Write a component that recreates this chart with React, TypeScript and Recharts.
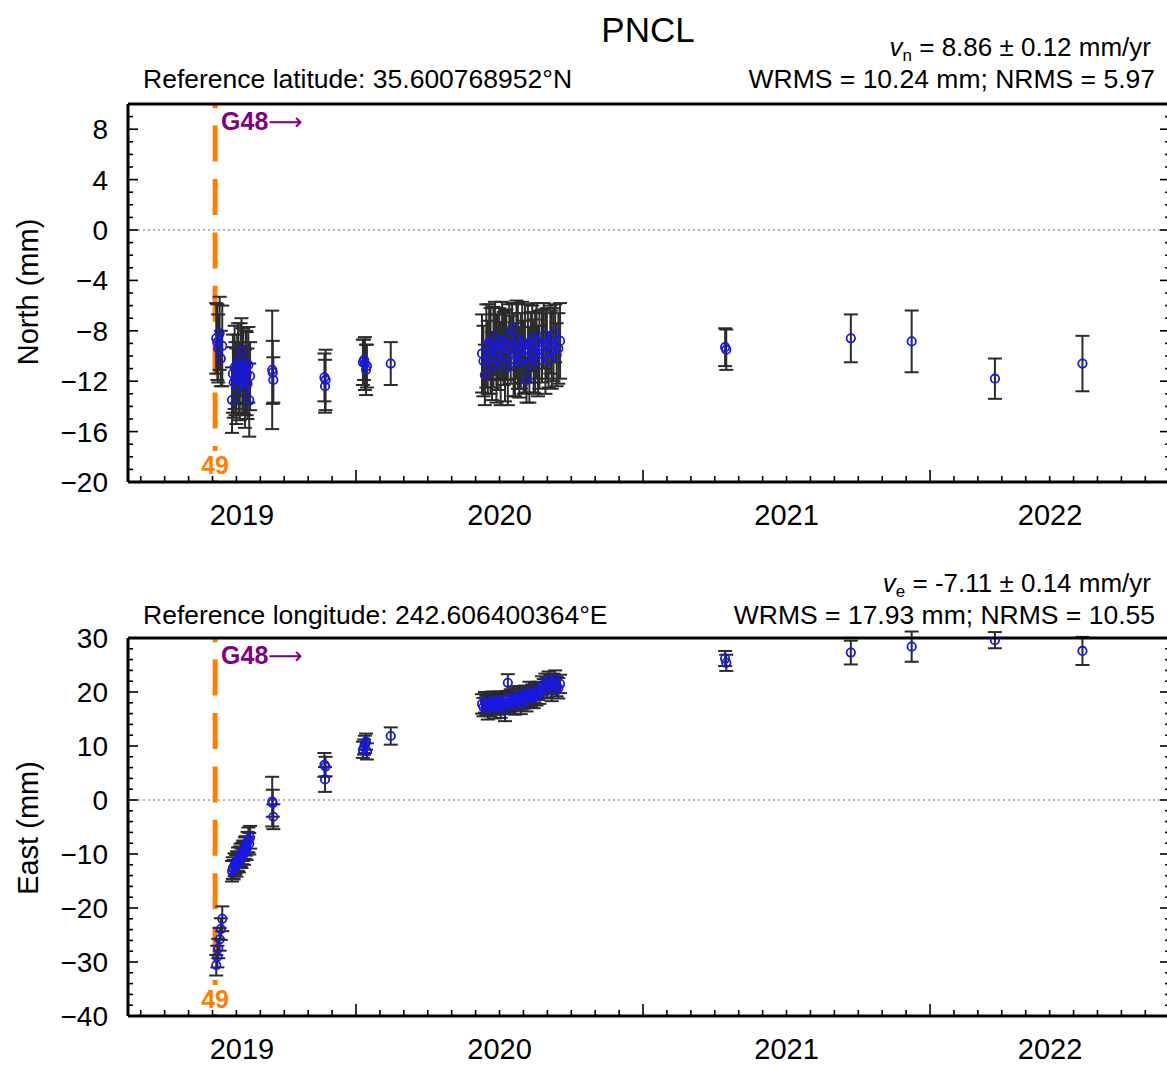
import React from 'react';
import { ComposedChart, Scatter, ErrorBar, XAxis, YAxis, ReferenceLine } from 'recharts';

const FONT = "'Liberation Sans', Arial, Helvetica, sans-serif";

// ---------- text content ----------
const stationName = 'PNCL';
const northVelocity = ' = 8.86 ± 0.12 mm/yr';
const northStats = 'WRMS = 10.24 mm; NRMS = 5.97';
const northRef = 'Reference latitude: 35.600768952°N';
const eastVelocity = ' = -7.11 ± 0.14 mm/yr';
const eastStats = 'WRMS = 17.93 mm; NRMS = 10.55';
const eastRef = 'Reference longitude: 242.606400364°E';
const eventCode = 'G48';
const eventArrow = '⟶';
const eventNumber = '49';

// ---------- axes ----------
const yearLabels = [2019, 2020, 2021, 2022];
const xDomain: [number, number] = [2019.2056, 2022.836];
const eventEpoch = 2019.509;
const northTickLabels = [8, 4, 0, -4, -8, -12, -16, -20];
const eastTickLabels = [30, 20, 10, 0, -10, -20, -30, -40];
const northDomain: [number, number] = [-20, 10];
const eastDomain: [number, number] = [-40, 30];

// ---------- data (decimal year, mm) ----------
const epochs = [
  2019.513, 2019.517, 2019.520, 2019.525, 2019.529, 2019.534,
  2019.568, 2019.571, 2019.574, 2019.577, 2019.580, 2019.583, 2019.586, 2019.589, 2019.592, 2019.595, 2019.598,
  2019.601, 2019.604, 2019.607, 2019.610, 2019.613, 2019.616, 2019.619, 2019.622, 2019.625, 2019.628, 2019.631,
  2019.708, 2019.710, 2019.712,
  2019.890, 2019.892, 2019.894,
  2020.024, 2020.028, 2020.031, 2020.035, 2020.038,
  2020.121,
  2020.439, 2020.444, 2020.449, 2020.454, 2020.459, 2020.464, 2020.469, 2020.474, 2020.479, 2020.484,
  2020.489, 2020.494, 2020.499, 2020.504, 2020.509, 2020.514, 2020.519, 2020.524, 2020.529, 2020.534,
  2020.539, 2020.544, 2020.549, 2020.554, 2020.559, 2020.564, 2020.569, 2020.574, 2020.579, 2020.584,
  2020.589, 2020.594, 2020.599, 2020.604, 2020.609, 2020.614, 2020.619, 2020.624, 2020.629, 2020.634, 2020.639,
  2020.648, 2020.654, 2020.660, 2020.665, 2020.671, 2020.677, 2020.682, 2020.688, 2020.694, 2020.699, 2020.705, 2020.711,
  2021.286, 2021.290,
  2021.724,
  2021.936,
  2022.226,
  2022.531,
];

const northMm = [
  -8.6, -8.9, -9.4, -8.2, -10.2, -9.2,
  -13.5, -11.4, -12.1, -10.9, -11.8, -12.4, -11.0, -10.6, -11.7, -12.0, -10.3,
  -9.6, -11.2, -10.8, -11.9, -12.6, -10.9, -11.4, -12.2, -10.7, -13.5, -11.6,
  -11.1, -11.3, -11.9,
  -11.7, -12.4, -11.9,
  -10.5, -10.3, -10.6, -11.1, -10.8,
  -10.6,
  -9.8, -10.4, -11.5, -9.2, -10.1, -8.9, -9.6, -10.8, -9.3, -8.6,
  -10.2, -9.7, -9.0, -10.6, -8.8, -9.4, -10.0, -9.1, -10.9, -8.5,
  -9.5, -7.8, -9.9, -10.3, -8.7, -9.2, -10.5, -9.6, -8.9, -10.1,
  -9.4, -11.9, -9.0, -10.7, -9.3, -8.6, -10.0, -9.8, -8.8, -10.4, -9.5,
  -9.2, -8.4, -9.8, -9.0, -10.3, -8.7, -9.5, -9.1, -8.2, -9.9, -9.4, -8.8,
  -9.3, -9.5,
  -8.6,
  -8.84,
  -11.8,
  -10.6,
];

const northSigma = [
  2.8, 3.0, 2.7, 2.9, 2.2, 3.2,
  2.6, 3.1, 2.8, 3.3, 2.9, 3.0, 2.7, 3.2, 2.8, 3.1, 2.9,
  2.6, 3.4, 3.0, 2.7, 3.1, 2.9, 3.3, 2.8, 3.0, 2.9, 2.7,
  4.7, 2.5, 1.8,
  1.9, 2.1, 2.4,
  1.8, 1.6, 2.1, 2.0, 1.7,
  1.7,
  3.1, 2.8, 2.4, 3.3, 2.9, 3.0, 3.4, 2.7, 3.2, 2.9,
  3.5, 3.0, 2.8, 3.3, 3.1, 2.9, 3.6, 2.8, 3.0, 2.6,
  2.7, 2.0, 3.3, 2.9, 3.1, 3.4, 2.8, 3.0, 3.2, 2.9,
  3.5, 1.8, 3.1, 3.0, 2.8, 2.6, 2.9, 3.2, 3.0, 2.8, 3.1,
  2.9, 2.6, 3.2, 2.8, 2.2, 2.7, 3.1, 2.9, 2.3, 2.5, 2.8, 3.0,
  1.5, 1.6,
  1.9,
  2.45,
  1.6,
  2.2,
];

const eastMm = [
  -30.6, -29.0, -27.5, -25.8, -23.9, -22.0,
  -13.2, -12.6, -12.9, -12.0, -11.8, -12.2, -11.3, -11.0, -11.5, -10.6, -10.2,
  -10.8, -9.9, -9.4, -9.8, -8.9, -8.5, -9.0, -7.8, -7.4, -8.1, -6.9,
  -0.3, -0.6, -3.1,
  6.5, 3.8, 6.2,
  9.3, 9.8, 10.3, 10.8, 9.0,
  11.85,
  17.8, 17.2, 18.1, 17.5, 16.9, 17.9, 17.4, 18.3, 17.6, 17.1,
  18.0, 17.7, 18.4, 17.3, 18.2, 17.8, 16.6, 18.5, 21.7, 17.9,
  18.6, 18.1, 19.0, 17.6, 18.8, 18.3, 19.3, 18.0, 19.1, 18.7,
  19.5, 18.4, 19.2, 20.0, 18.9, 19.6, 19.0, 19.8, 19.3, 20.2, 19.7,
  21.2, 20.6, 21.8, 20.9, 22.1, 21.4, 20.3, 21.7, 22.4, 21.0, 20.7, 21.5,
  26.2, 25.4,
  27.3,
  28.4,
  29.6,
  27.6,
];

const eastSigma = [
  1.9, 2.0, 1.8, 2.1, 2.0, 2.3,
  1.9, 2.0, 1.8, 2.1, 1.9, 2.0, 1.8, 2.2, 1.9, 2.0, 2.1,
  1.8, 2.0, 1.9, 2.2, 2.0, 1.8, 2.1, 1.9, 2.3, 2.0, 2.1,
  4.6, 2.5, 2.3,
  2.2, 2.3, 1.8,
  1.5, 1.4, 1.6, 1.5, 1.5,
  1.6,
  1.8, 1.7, 1.9, 1.8, 2.0, 1.7, 1.9, 1.8, 1.6, 2.0,
  1.8, 1.9, 1.7, 2.1, 1.8, 1.9, 2.0, 1.7, 1.6, 1.8,
  1.9, 1.7, 2.0, 1.8, 1.9, 1.7, 1.8, 2.1, 1.9, 1.8,
  1.7, 2.0, 1.8, 1.9, 1.7, 1.8, 2.0, 1.9, 1.8, 1.7, 1.9,
  1.7, 1.8, 1.6, 1.9, 1.7, 1.8, 2.0, 1.7, 1.6, 1.8, 1.9, 1.7,
  1.4, 1.5,
  2.2,
  2.8,
  1.5,
  2.6,
];

const northRows = epochs.map((t, i) => ({ t, v: northMm[i], err: northSigma[i] }));
const eastRows = epochs.map((t, i) => ({ t, v: eastMm[i], err: eastSigma[i] }));

// ---------- tick helpers ----------
const monthTicks: number[] = [];
for (let y = 2019; y <= 2022; y++) {
  for (let m = 0; m < 12; m++) {
    const v = Math.round((y + m / 12) * 100000) / 100000;
    if (v > xDomain[0] && v < xDomain[1]) monthTicks.push(v);
  }
}
const labelCenters = yearLabels.map((y) => {
  const lo = Math.max(y, xDomain[0]);
  const hi = Math.min(y + 1, xDomain[1]);
  return Math.round(((lo + hi) / 2) * 100000) / 100000;
});
const bottomTicks = Array.from(new Set([...monthTicks, ...labelCenters])).sort((a, b) => a - b);

const near = (a: number, b: number) => Math.abs(a - b) < 1e-6;
const fmt = (v: number) => (v < 0 ? '\u2212' + Math.abs(v) : String(v));

const CHART_W = 1180;
const CHART_H = 545;
const BOTTOM_AXIS_H = 60;
const MARGIN = { top: 103, right: 9, bottom: 63 - BOTTOM_AXIS_H, left: 0 };
const AXIS_LINE = { stroke: '#000', strokeWidth: 3 };
const TICK_STROKE = 1.6;

const BottomTick = (p: any) => {
  const { x, y, payload } = p;
  const v = payload.value;
  const isMonth = monthTicks.some((m) => near(m, v));
  const isYear = isMonth && near(v, Math.round(v));
  const li = labelCenters.findIndex((c) => near(c, v));
  return (
    <g>
      {isMonth && <line x1={x} x2={x} y1={y} y2={y - (isYear ? 12 : 6)} stroke="#000" strokeWidth={TICK_STROKE} />}
      {li >= 0 && (
        <text x={x} y={y + 43} textAnchor="middle" fontSize={29} fontFamily={FONT} fill="#000">
          {String(yearLabels[li])}
        </text>
      )}
    </g>
  );
};

const TopTick = (p: any) => {
  const { x, y, payload } = p;
  const v = payload.value;
  const isYear = near(v, Math.round(v));
  return <line x1={x} x2={x} y1={y} y2={y + (isYear ? 12 : 6)} stroke="#000" strokeWidth={TICK_STROKE} />;
};

const LeftTick = (p: any) => {
  const { x, y, payload, labels } = p;
  const v = payload.value;
  const major = labels.some((l: number) => near(l, v));
  return (
    <g>
      <line x1={x} x2={x + (major ? 10 : 5)} y1={y} y2={y} stroke="#000" strokeWidth={TICK_STROKE} />
      {major && (
        <text x={x - 20} y={y} dy="0.36em" textAnchor="end" fontSize={28} fontFamily={FONT} fill="#000">
          {fmt(v)}
        </text>
      )}
    </g>
  );
};

const RightTick = (p: any) => {
  const { x, y, payload, labels } = p;
  const v = payload.value;
  const major = labels.some((l: number) => near(l, v));
  return <line x1={x} x2={x - (major ? 10 : 5)} y1={y} y2={y} stroke="#000" strokeWidth={TICK_STROKE} />;
};

const Dot = (p: any) => {
  if (p.cx == null || p.cy == null) return <g />;
  return <circle cx={p.cx} cy={p.cy} r={4.2} fill="none" stroke="#1818e8" strokeWidth={1.8} />;
};

const EventMarks = (p: any) => {
  const vb = p.viewBox || {};
  const x = vb.x ?? 0;
  const top = vb.y ?? 0;
  const bottom = top + (vb.height ?? 0);
  return (
    <g>
      <rect x={x - 16} y={bottom - 31} width={32} height={29} fill="#fff" />
      <text x={x} y={bottom - 8} textAnchor="middle" fontSize={25} fontWeight="bold" fontFamily={FONT} fill="#ff8000">
        {eventNumber}
      </text>
      <text x={x + 6} y={top + 26} textAnchor="start" fontSize={25} fontWeight="bold" fontFamily={FONT} fill="#800080">
        {eventCode}
        <tspan fontFamily="'DejaVu Sans', sans-serif" fontWeight="normal" fontSize={24}>{eventArrow}</tspan>
      </text>
    </g>
  );
};

type PanelProps = {
  rows: { t: number; v: number; err: number }[];
  yDomain: [number, number];
  yStep: number;
  yLabels: number[];
  top: number;
};

function Panel({ rows, yDomain, yStep, yLabels, top }: PanelProps) {
  const yTicks: number[] = [];
  for (let v = yDomain[0]; v <= yDomain[1] + 1e-9; v += yStep) yTicks.push(Math.round(v * 1000) / 1000);
  return (
    <div style={{ position: 'absolute', left: 0, top, width: CHART_W, height: CHART_H }}>
      <ComposedChart width={CHART_W} height={CHART_H} data={rows} margin={MARGIN}>
        <XAxis
          xAxisId="b"
          type="number"
          dataKey="t"
          orientation="bottom"
          domain={xDomain}
          allowDataOverflow
          ticks={bottomTicks}
          interval={0}
          tickSize={0}
          tickMargin={0}
          tickLine={false}
          axisLine={AXIS_LINE}
          height={BOTTOM_AXIS_H}
          tick={(tp: any) => <BottomTick {...tp} />}
        />
        <XAxis
          xAxisId="t"
          type="number"
          orientation="top"
          domain={xDomain}
          allowDataOverflow
          ticks={monthTicks}
          interval={0}
          tickSize={0}
          tickMargin={0}
          tickLine={false}
          axisLine={AXIS_LINE}
          height={1}
          tick={(tp: any) => <TopTick {...tp} />}
        />
        <YAxis
          yAxisId="l"
          type="number"
          dataKey="v"
          orientation="left"
          domain={yDomain}
          allowDataOverflow
          ticks={yTicks}
          interval={0}
          tickSize={0}
          tickMargin={0}
          tickLine={false}
          axisLine={AXIS_LINE}
          width={128}
          tick={(tp: any) => <LeftTick {...tp} labels={yLabels} />}
        />
        <YAxis
          yAxisId="r"
          type="number"
          orientation="right"
          domain={yDomain}
          allowDataOverflow
          ticks={yTicks}
          interval={0}
          tickSize={0}
          tickMargin={0}
          tickLine={false}
          axisLine={AXIS_LINE}
          width={1}
          tick={(tp: any) => <RightTick {...tp} labels={yLabels} />}
        />
        <ReferenceLine xAxisId="b" yAxisId="l" y={0} stroke="#9a9a9a" strokeWidth={1.3} strokeDasharray="2 3" />
        <ReferenceLine
          xAxisId="b"
          yAxisId="l"
          x={eventEpoch}
          stroke="#ff8000"
          strokeWidth={5}
          strokeDasharray="36 17.4"
          label={(lp: any) => <EventMarks {...lp} />}
        />
        <Scatter xAxisId="b" yAxisId="l" data={rows} shape={(sp: any) => <Dot {...sp} />} isAnimationActive={false}>
          <ErrorBar dataKey="err" direction="y" width={7} stroke="#2b2b2b" strokeWidth={2} isAnimationActive={false} />
        </Scatter>
      </ComposedChart>
    </div>
  );
}

export default function App() {
  return (
    <div
      style={{
        position: 'absolute',
        left: 0,
        top: 0,
        width: 1167,
        height: 1065,
        overflow: 'hidden',
        background: '#fff',
        fontFamily: FONT,
      }}
    >
      <Panel rows={northRows} yDomain={northDomain} yStep={1} yLabels={northTickLabels} top={0} />
      <Panel rows={eastRows} yDomain={eastDomain} yStep={2} yLabels={eastTickLabels} top={534} />
      <svg
        width={1167}
        height={1065}
        style={{ position: 'absolute', left: 0, top: 0, pointerEvents: 'none' }}
        fontFamily={FONT}
      >
        <text x={648} y={42} textAnchor="middle" fontSize={35} fill="#000">{stationName}</text>

        <text x={1151} y={56} textAnchor="end" fontSize={26} fill="#000">
          <tspan fontStyle="italic">v</tspan>
          <tspan fontSize={17} dy={5}>n</tspan>
          <tspan dy={-5}>{northVelocity}</tspan>
        </text>
        <text x={1155} y={88} textAnchor="end" fontSize={26.5} fill="#000">{northStats}</text>
        <text x={143} y={88} textAnchor="start" fontSize={26.5} fill="#000">{northRef}</text>
        <text transform="translate(38,292) rotate(-90)" textAnchor="middle" fontSize={29} fill="#000">North (mm)</text>

        <text x={1151} y={592} textAnchor="end" fontSize={26} fill="#000">
          <tspan fontStyle="italic">v</tspan>
          <tspan fontSize={17} dy={5}>e</tspan>
          <tspan dy={-5}>{eastVelocity}</tspan>
        </text>
        <text x={1155} y={624} textAnchor="end" fontSize={26.5} fill="#000">{eastStats}</text>
        <text x={143} y={624} textAnchor="start" fontSize={26.5} fill="#000">{eastRef}</text>
        <text transform="translate(38,828) rotate(-90)" textAnchor="middle" fontSize={29} fill="#000">East (mm)</text>
      </svg>
    </div>
  );
}
